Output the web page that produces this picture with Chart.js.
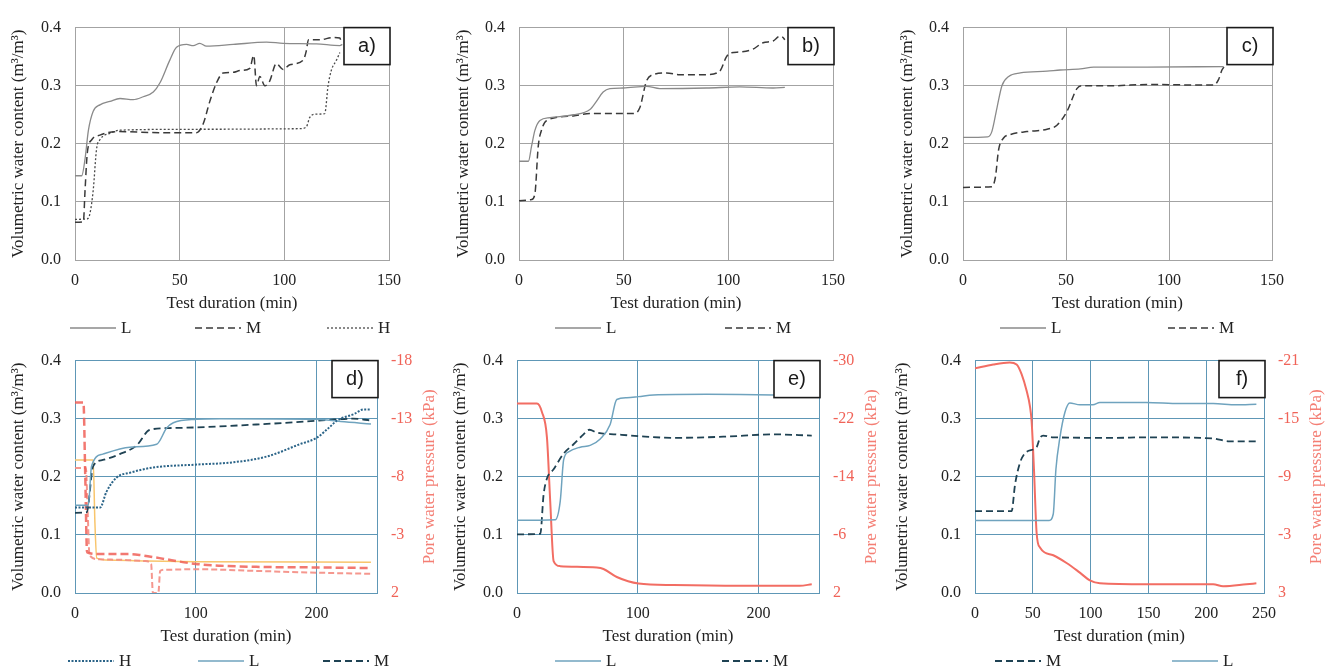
<!DOCTYPE html>
<html>
<head>
<meta charset="utf-8">
<script src="https://cdn.jsdelivr.net/npm/chart.js@4.4.1/dist/chart.umd.min.js"></script>
<style>
  html, body { margin: 0; padding: 0; background: #fff; width: 1336px; height: 671px; overflow: hidden; }
  canvas { position: absolute; }
</style>
</head>
<body>
<canvas id="ca" width="432" height="338" style="left:8px;top:4px"></canvas>
<canvas id="cb" width="427" height="338" style="left:453px;top:4px"></canvas>
<canvas id="cc" width="439" height="338" style="left:897px;top:4px"></canvas>
<canvas id="cd" width="432" height="338" style="left:8px;top:337px"></canvas>
<canvas id="ce" width="434" height="338" style="left:450px;top:337px"></canvas>
<canvas id="cf" width="444" height="338" style="left:892px;top:337px"></canvas>
<script>
// ---- panel a (test duration in min, volumetric water content in m3/m3)
const aL_t = [0, 3.2, 4.8, 6.4, 8.7, 11.9, 16.7, 21.5, 27.8, 32.6, 37.4, 40.6, 45.3, 48.5, 53.3, 56.5, 59.6, 62.8, 75.6, 91.5, 99.4, 115.3, 126.5, 127.7];
const aL_v = [0.145, 0.145, 0.174, 0.223, 0.256, 0.267, 0.273, 0.278, 0.276, 0.281, 0.289, 0.305, 0.344, 0.366, 0.371, 0.369, 0.373, 0.368, 0.371, 0.375, 0.373, 0.372, 0.369, 0.371];
const aM_t = [0, 4, 4.8, 5.9, 8, 11.9, 19.9, 43.7, 58, 61.2, 64.4, 67.6, 70.8, 75.6, 78.7, 83.5, 85.4, 86.7, 88.3, 90.7, 93, 96.2, 99.4, 102.6, 109, 110.5, 111.5, 116.9, 123.3, 126.5, 127.3];
const aM_v = [0.065, 0.066, 0.12, 0.185, 0.207, 0.215, 0.221, 0.219, 0.219, 0.234, 0.273, 0.305, 0.322, 0.323, 0.326, 0.33, 0.352, 0.3, 0.316, 0.3, 0.308, 0.338, 0.328, 0.336, 0.344, 0.36, 0.379, 0.379, 0.383, 0.382, 0.374];
const aH_t = [0, 6, 7.2, 8.7, 10.3, 11.9, 16.7, 21.5, 59.6, 107.4, 110.5, 112.1, 114.5, 119.3, 120.9, 122.5, 124.9, 126.5];
const aH_v = [0.07, 0.071, 0.081, 0.12, 0.191, 0.207, 0.218, 0.2235, 0.225, 0.226, 0.229, 0.245, 0.251, 0.252, 0.3, 0.327, 0.344, 0.357];

// ---- panel b
const bL_t = [0, 4.5, 6, 7.6, 10, 14.8, 25.9, 33.9, 37, 40.2, 43.4, 49.8, 60.9, 67.3, 89.5, 105.5, 121.4, 127];
const bL_v = [0.17, 0.17, 0.196, 0.223, 0.24, 0.245, 0.25, 0.259, 0.273, 0.289, 0.295, 0.296, 0.299, 0.295, 0.296, 0.298, 0.296, 0.297];
const bM_t = [0, 6, 7.6, 9.2, 10.8, 13.2, 25.9, 33.9, 54.6, 57.7, 60.9, 64.1, 70.5, 76.8, 89.5, 95.9, 99, 100.7, 105.5, 111.8, 116.6, 121.4, 124.5, 126.1, 127];
const bM_v = [0.102, 0.104, 0.114, 0.196, 0.224, 0.24, 0.248, 0.252, 0.252, 0.262, 0.308, 0.319, 0.322, 0.319, 0.319, 0.325, 0.349, 0.356, 0.358, 0.363, 0.374, 0.377, 0.385, 0.383, 0.379];

// ---- panel c
const cL_t = [0, 12, 14, 16.5, 18.9, 22.2, 27.8, 40.8, 47.2, 57, 63.4, 89.3, 126.5];
const cL_v = [0.211, 0.212, 0.221, 0.262, 0.3, 0.316, 0.322, 0.325, 0.327, 0.329, 0.332, 0.332, 0.333];
const cM_t = [0, 14, 15.7, 17.3, 19.7, 23, 31, 40.8, 45.6, 50.5, 55.3, 57.8, 73, 89.3, 121.7, 124.1, 125.7, 127.3];
const cM_v = [0.125, 0.126, 0.142, 0.19, 0.21, 0.216, 0.221, 0.225, 0.232, 0.256, 0.295, 0.3, 0.3, 0.302, 0.301, 0.311, 0.327, 0.335];

// ---- panel d (plus pore water pressure in kPa on the right axis)
const dL_t = [0, 11, 13.7, 23, 45.5, 67.6, 75.9, 81.4, 100.7, 120, 200, 220, 245];
const dL_v = [0.151, 0.151, 0.218, 0.239, 0.251, 0.256, 0.284, 0.293, 0.299, 0.3, 0.299, 0.295, 0.291];
const dM_t = [0, 9.7, 15, 23, 37, 51, 62, 80, 100, 150, 190, 210, 230, 245];
const dM_v = [0.138, 0.139, 0.218, 0.229, 0.239, 0.254, 0.281, 0.284, 0.285, 0.29, 0.295, 0.298, 0.3, 0.297];
const dH_t = [0, 20.7, 26, 34.5, 45.5, 64.7, 100.7, 131, 159, 186, 200, 211, 217, 231, 239, 245];
const dH_v = [0.147, 0.147, 0.174, 0.199, 0.207, 0.216, 0.221, 0.225, 0.235, 0.256, 0.267, 0.286, 0.297, 0.308, 0.316, 0.316];
const dP1_t = [0, 7, 8.5, 10, 20, 45, 55, 70, 100, 120, 150, 200, 245];
const dP1_p = [-14.4, -14.4, -8, -1.5, -1.35, -1.35, -1.25, -1, -0.5, -0.35, -0.25, -0.2, -0.15];
const dP2_t = [0, 9, 10.5, 12, 20, 40, 58, 63, 64.5, 69, 70.5, 75, 100, 150, 200, 245];
const dP2_p = [-8.75, -8.75, -5, -1.25, -0.9, -0.85, -0.75, -0.5, 2, 2, 0.1, 0, -0.05, 0.1, 0.25, 0.35];
const dP3_t = [0, 15, 16.5, 18, 25, 60, 100, 245];
const dP3_p = [-9.45, -9.45, -4, -1, -0.85, -0.75, -0.7, -0.65];

// ---- panel e
const eL_t = [0, 31.7, 35.8, 38.6, 42.7, 52.3, 60.6, 68.9, 77.1, 82.6, 90.9, 100.6, 113, 157, 212, 244];
const eL_v = [0.125, 0.126, 0.158, 0.229, 0.243, 0.251, 0.254, 0.265, 0.29, 0.333, 0.336, 0.338, 0.341, 0.342, 0.341, 0.341];
const eM_t = [0, 19.3, 22, 24.8, 30.3, 38.6, 46.8, 55.1, 60, 66.1, 82.6, 100.6, 129.5, 170.8, 212, 244];
const eM_v = [0.101, 0.102, 0.169, 0.197, 0.213, 0.24, 0.256, 0.273, 0.281, 0.276, 0.273, 0.27, 0.267, 0.269, 0.273, 0.271];
const eP_t = [0, 16.5, 20.7, 24.8, 27.5, 30.3, 35.8, 66, 71.6, 82.6, 100.6, 129.5, 184.6, 234, 244];
const eP_p = [-24.1, -24.1, -22.9, -19.4, -10.6, -2.4, -1.7, -1.5, -1.3, -0.2, 0.7, 0.9, 1.0, 1.0, 0.8];

// ---- panel f
const fM_t = [0, 31.7, 34.6, 38.9, 44.6, 53.3, 56.2, 59, 67.7, 119.5, 148, 206, 220, 243.4];
const fM_v = [0.141, 0.141, 0.186, 0.224, 0.243, 0.251, 0.267, 0.271, 0.268, 0.267, 0.268, 0.266, 0.261, 0.261];
const fL_t = [0, 64.2, 67.7, 70, 73.4, 77.8, 82, 90.7, 102, 108, 148, 177, 206, 226, 243.4];
const fL_v = [0.125, 0.125, 0.136, 0.213, 0.267, 0.311, 0.327, 0.324, 0.324, 0.328, 0.328, 0.326, 0.326, 0.324, 0.325];
const fP_t = [0, 15.8, 30, 36, 40.3, 44.6, 47.5, 49, 51, 53.3, 56.2, 67.7, 79.2, 90.7, 99.4, 108, 148, 206, 214.6, 234.7, 243.4];
const fP_p = [-20.2, -20.6, -20.8, -20.6, -19.6, -17.9, -16.3, -14.7, -9.8, -3.2, -1.7, -0.9, -0.1, 0.9, 1.7, 2.0, 2.1, 2.1, 2.3, 2.1, 2.0];

// right axis tick labels (pore water pressure, kPa)
const dTicksR = [-18, -13, -8, -3, 2];
const eTicksR = [-30, -22, -14, -6, 2];
const fTicksR = [-21, -15, -9, -3, 3];
const vwcTicks = [0, 0.1, 0.2, 0.3, 0.4];

const serif = "'Liberation Serif', 'Times New Roman', serif";
const RED = '#f26d63';
const pts = (t, v) => t.map((x, i) => ({ x: x, y: v[i] }));

function line(label, t, v, color, width, dash, axis) {
  return {
    label: label, data: pts(t, v), borderColor: color, borderWidth: width,
    borderDash: dash || [], pointRadius: 0, fill: false,
    cubicInterpolationMode: 'monotone', yAxisID: axis || 'y'
  };
}

// legend lines, panel label box and right axis title
const decor = {
  id: 'decor',
  afterDraw(chart, args, o) {
    const ctx = chart.ctx, a = chart.chartArea;
    ctx.save();
    o.legend.forEach(it => {
      const ds = chart.data.datasets[it.ds];
      const x = a.left + it.x, y = a.bottom + 68;
      ctx.strokeStyle = ds.borderColor;
      ctx.lineWidth = ds.borderWidth;
      ctx.setLineDash(ds.borderDash);
      ctx.beginPath(); ctx.moveTo(x, y); ctx.lineTo(x + 46, y); ctx.stroke();
      ctx.setLineDash([]);
      ctx.fillStyle = '#222';
      ctx.font = '17px ' + serif;
      ctx.textAlign = 'left'; ctx.textBaseline = 'middle';
      ctx.fillText(ds.label, x + 51, y + 1);
    });
    // panel letter
    const bx = a.right - 45, by = a.top;
    ctx.fillStyle = '#fff';
    ctx.fillRect(bx, by, 46, 37);
    ctx.strokeStyle = '#1a1a1a'; ctx.lineWidth = 1.6;
    ctx.strokeRect(bx, by, 46, 37);
    ctx.fillStyle = '#1a1a1a';
    ctx.font = "20px 'Liberation Sans', Arial, sans-serif";
    ctx.textAlign = 'center'; ctx.textBaseline = 'middle';
    ctx.fillText(o.tag, bx + 23, by + 19);
    if (o.rightTitle) {
      ctx.translate(a.right + 53, (a.top + a.bottom) / 2);
      ctx.rotate(-Math.PI / 2);
      ctx.fillStyle = '#f47e74';
      ctx.font = '17px ' + serif;
      ctx.fillText('Pore water pressure (kPa)', 0, 0);
    }
    ctx.restore();
  }
};

function build(id, p) {
  const tickFont = { family: serif, size: 16 };
  const titleFont = { family: serif, size: 17 };
  const scales = {
    x: {
      type: 'linear', min: 0, max: p.xMax,
      ticks: { stepSize: p.xStep, includeBounds: false, padding: 11, color: '#222', font: tickFont, maxRotation: 0 },
      grid: { color: p.grid, drawTicks: false },
      border: { color: p.grid },
      title: { display: true, text: 'Test duration (min)', color: '#222', font: titleFont, padding: 0 },
      afterFit: s => { s.height = 54; }
    },
    y: {
      min: 0, max: 0.4,
      afterBuildTicks: s => { s.ticks = vwcTicks.map(v => ({ value: v })); },
      ticks: { padding: 14, color: '#222', font: tickFont, callback: v => v.toFixed(1) },
      grid: { color: p.grid, drawTicks: false },
      border: { color: p.grid },
      title: { display: true, text: 'Volumetric water content (m³/m³)', color: '#222', font: titleFont, padding: 0 },
      afterFit: s => { s.width = p.yW; }
    }
  };
  if (p.rTicks) {
    scales.y1 = {
      position: 'right', reverse: true,
      min: p.rTicks[0], max: p.rTicks[p.rTicks.length - 1],
      afterBuildTicks: s => { s.ticks = p.rTicks.map(v => ({ value: v })); },
      ticks: { padding: 14, color: '#f06358', font: tickFont },
      grid: { display: false, drawTicks: false },
      border: { color: p.grid },
      afterFit: s => { s.width = p.rW; }
    };
  }
  return new Chart(document.getElementById(id), {
    type: 'line',
    data: { datasets: p.datasets },
    options: {
      responsive: false,
      animation: false,
      layout: { padding: { top: 12, bottom: 28, left: 0, right: p.padR } },
      scales: scales,
      plugins: {
        legend: { display: false },
        tooltip: { enabled: false },
        decor: { legend: p.legend, tag: p.tag, rightTitle: !!p.rTicks }
      }
    },
    plugins: [decor]
  });
}

const G1 = '#a3a3a3', G2 = '#5e97b6';
const gL = '#8a8a8a', gM = '#3a3a3a', gH = '#4a4a4a';
const bL = '#6fa3be', bM = '#1f4253', bH = '#2b6488';

build('ca', {
  xMax: 150, xStep: 50, yW: 67, padR: 51, grid: G1, tag: 'a)',
  datasets: [
    line('L', aL_t, aL_v, gL, 1.3),
    line('M', aM_t, aM_v, gM, 1.5, [7, 4]),
    line('H', aH_t, aH_v, gH, 1.3, [2, 2])
  ],
  legend: [{ ds: 0, x: -5 }, { ds: 1, x: 120 }, { ds: 2, x: 252 }]
});
build('cb', {
  xMax: 150, xStep: 50, yW: 66, padR: 47, grid: G1, tag: 'b)',
  datasets: [
    line('L', bL_t, bL_v, gL, 1.3),
    line('M', bM_t, bM_v, gM, 1.5, [7, 4])
  ],
  legend: [{ ds: 0, x: 36 }, { ds: 1, x: 206 }]
});
build('cc', {
  xMax: 150, xStep: 50, yW: 66, padR: 64, grid: G1, tag: 'c)',
  datasets: [
    line('L', cL_t, cL_v, gL, 1.3),
    line('M', cM_t, cM_v, gM, 1.5, [7, 4])
  ],
  legend: [{ ds: 0, x: 37 }, { ds: 1, x: 205 }]
});
build('cd', {
  xMax: 250, xStep: 100, yW: 67, rW: 63, padR: 0, grid: G2, tag: 'd)', rTicks: dTicksR,
  datasets: [
    line('H', dH_t, dH_v, bH, 2, [2, 1.5]),
    line('L', dL_t, dL_v, bL, 1.5),
    line('M', dM_t, dM_v, bM, 1.8, [7, 4]),
    line('Pore water pressure L', dP1_t, dP1_p, 'rgba(240,96,88,0.85)', 2.5, [8, 4], 'y1'),
    line('Pore water pressure M', dP2_t, dP2_p, 'rgba(244,140,130,0.9)', 2, [6, 3], 'y1'),
    line('Pore water pressure H', dP3_t, dP3_p, '#f8c56c', 1.5, [], 'y1')
  ],
  legend: [{ ds: 0, x: -7 }, { ds: 1, x: 123 }, { ds: 2, x: 248 }]
});
build('ce', {
  xMax: 250, xStep: 100, yW: 67, rW: 65, padR: 0, grid: G2, tag: 'e)', rTicks: eTicksR,
  datasets: [
    line('L', eL_t, eL_v, bL, 1.5),
    line('M', eM_t, eM_v, bM, 1.8, [7, 4]),
    line('Pore water pressure', eP_t, eP_p, RED, 2, [], 'y1')
  ],
  legend: [{ ds: 0, x: 38 }, { ds: 1, x: 205 }]
});
build('cf', {
  xMax: 250, xStep: 50, yW: 83, rW: 72, padR: 0, grid: G2, tag: 'f)', rTicks: fTicksR,
  datasets: [
    line('M', fM_t, fM_v, bM, 1.8, [7, 4]),
    line('L', fL_t, fL_v, bL, 1.5),
    line('Pore water pressure', fP_t, fP_p, RED, 2, [], 'y1')
  ],
  legend: [{ ds: 0, x: 20 }, { ds: 1, x: 197 }]
});
</script>
</body>
</html>
